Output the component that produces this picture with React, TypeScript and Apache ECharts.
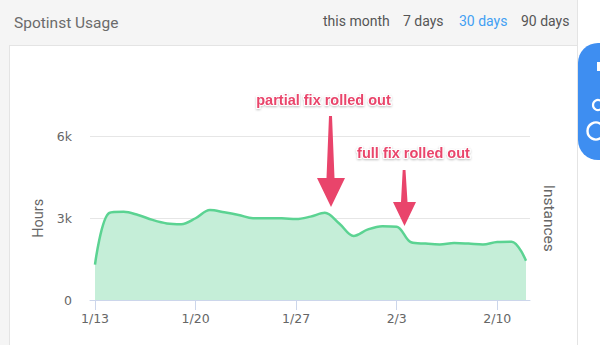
import React, { useEffect, useRef } from "react";
import * as echarts from "echarts";

const dates = [
  "1/13", "1/14", "1/15", "1/16", "1/17", "1/18", "1/19", "1/20", "1/21", "1/22",
  "1/23", "1/24", "1/25", "1/26", "1/27", "1/28", "1/29", "1/30", "1/31", "2/1",
  "2/2", "2/3", "2/4", "2/5", "2/6", "2/7", "2/8", "2/9", "2/10", "2/11", "2/12",
];
const hours = [
  1300, 3200, 3240, 3120, 2940, 2810, 2780, 3000, 3300, 3220,
  3120, 3000, 3000, 3000, 2970, 3060, 3200, 2810, 2350, 2590,
  2710, 2690, 2120, 2070, 2040, 2090, 2070, 2040, 2130, 2140, 1440,
];
const labelIndices = [0, 7, 14, 21, 28];
const rangeLinks = ["this month", "7 days", "30 days", "90 days"];
const activeLink = "30 days";
const annotations = ["partial fix rolled out", "full fix rolled out"];

export default function App() {
  const ref = useRef<HTMLDivElement>(null);
  useEffect(() => {
    if (!ref.current) return;
    const chart = echarts.init(ref.current, undefined, { renderer: "svg" });
    const linkX = [323, 403, 459, 521];
    const arrowColor = "#e9446b";
    const annStyle = {
      fill: arrowColor,
      fontFamily: "Liberation Sans, Arial, sans-serif",
      fontWeight: "bold",
      fontSize: 14.5,
      textAlign: "center",
      textVerticalAlign: "middle",
      stroke: "#ffffff",
      lineWidth: 2,
      textShadowColor: "rgba(0,0,0,0.25)",
      textShadowBlur: 2,
      textShadowOffsetY: 1,
    } as any;
    chart.setOption({
      animation: false,
      backgroundColor: "#ffffff",
      grid: { left: 90, right: 70, top: 136.5, bottom: 45, containLabel: false },
      xAxis: {
        type: "value",
        min: -0.348,
        max: 30.278,
        splitLine: { show: false },
        axisLine: { show: true, lineStyle: { color: "#ccd6eb", width: 1 } },
        axisTick: {
          show: true,
          length: 10,
          lineStyle: { color: "#ccd6eb" },
          customValues: labelIndices,
        },
        axisLabel: {
          customValues: labelIndices,
          formatter: (v: number) => dates[Math.round(v)] ?? "",
          color: "#666666",
          fontSize: 12.5,
          fontFamily: "DejaVu Sans, Arial, sans-serif",
          margin: 12,
        },
      },
      yAxis: [
        {
          type: "value",
          min: 0,
          max: 6000,
          interval: 3000,
          name: "Hours",
          nameLocation: "middle",
          nameRotate: 90,
          nameGap: 44,
          nameTextStyle: { color: "#666666", fontSize: 14.5, fontFamily: "Roboto, sans-serif" },
          axisLine: { show: false },
          axisTick: { show: false },
          splitLine: { lineStyle: { color: "#e6e6e6" } },
          axisLabel: {
            formatter: (v: number) => (v === 0 ? "0" : v / 1000 + "k"),
            color: "#666666",
            fontSize: 12.5,
            fontFamily: "DejaVu Sans, Arial, sans-serif",
            margin: 18,
          },
        },
        {
          type: "value",
          min: 0,
          max: 6000,
          position: "right",
          name: "Instances",
          nameLocation: "middle",
          nameRotate: -90,
          nameGap: 11,
          nameTextStyle: { color: "#666666", fontSize: 15.5, fontFamily: "Roboto, sans-serif" },
          axisLine: { show: false },
          axisTick: { show: false },
          axisLabel: { show: false },
          splitLine: { show: false },
        },
      ],
      series: [
        {
          type: "line",
          data: hours.map((v, i) => [i, v]),
          smooth: 0.35,
          symbol: "none",
          lineStyle: { color: "#5bd392", width: 2.5 },
          areaStyle: { color: "#c5eed8", opacity: 1 },
        },
      ],
      graphic: [
        { type: "rect", z: -10, silent: true, shape: { x: 0, y: 0, width: 9, height: 345 }, style: { fill: "#f5f5f5" } },
        { type: "rect", z: -10, silent: true, shape: { x: 0, y: 0, width: 577, height: 45 }, style: { fill: "#f5f5f5" } },
        { type: "line", z: -5, shape: { x1: 9.5, y1: 45, x2: 9.5, y2: 345 }, style: { stroke: "#e4e4e4", lineWidth: 1 } },
        { type: "line", z: -5, shape: { x1: 577.5, y1: 0, x2: 577.5, y2: 345 }, style: { stroke: "#e4e4e4", lineWidth: 1 } },
        { type: "line", z: -5, shape: { x1: 9, y1: 45.5, x2: 577, y2: 45.5 }, style: { stroke: "#e4e4e4", lineWidth: 1 } },
        {
          type: "text", x: 14, y: 23,
          style: { text: "Spotinst Usage", fill: "#6b6b6b", fontSize: 15.5, fontFamily: "Roboto, sans-serif", textVerticalAlign: "middle" },
        },
        ...rangeLinks.map((t, i) => ({
          type: "text", x: linkX[i], y: 21,
          style: {
            text: t,
            fill: t === activeLink ? "#42a0f3" : "#555555",
            fontSize: 14,
            fontFamily: "Roboto, sans-serif",
            textVerticalAlign: "middle",
          },
        })),
        { type: "rect", shape: { x: 578, y: 43, width: 50, height: 117, r: 20 }, style: { fill: "#3e8ef1" } },
        { type: "rect", shape: { x: 597, y: 62, width: 3, height: 9 }, style: { fill: "#ffffff" } },
        { type: "arc", shape: { cx: 598, cy: 105, r: 5, startAngle: 0, endAngle: Math.PI * 2 }, style: { stroke: "#ffffff", lineWidth: 2.2, fill: "none" } },
        { type: "arc", shape: { cx: 596, cy: 131, r: 8.5, startAngle: 0, endAngle: Math.PI * 2 }, style: { stroke: "#ffffff", lineWidth: 2.4, fill: "none" } },
        { type: "text", z: 20, x: 323.5, y: 100, style: { ...annStyle, text: annotations[0] } },
        { type: "text", z: 20, x: 413.5, y: 153, style: { ...annStyle, text: annotations[1] } },
        {
          type: "polygon", z: 20,
          shape: { points: [[329, 116], [332, 116], [334.5, 178], [345, 178], [331, 207], [317, 178], [326.5, 178]] },
          style: { fill: arrowColor },
        },
        {
          type: "polygon", z: 20,
          shape: { points: [[402.7, 170], [405.5, 170], [407.5, 202], [416, 202], [404.5, 226], [393, 202], [401, 202]] },
          style: { fill: arrowColor },
        },
      ],
    });
    return () => chart.dispose();
  }, []);
  return (
    <div
      ref={ref}
      style={{ position: "fixed", left: 0, top: 0, width: 600, height: 345 }}
    />
  );
}
